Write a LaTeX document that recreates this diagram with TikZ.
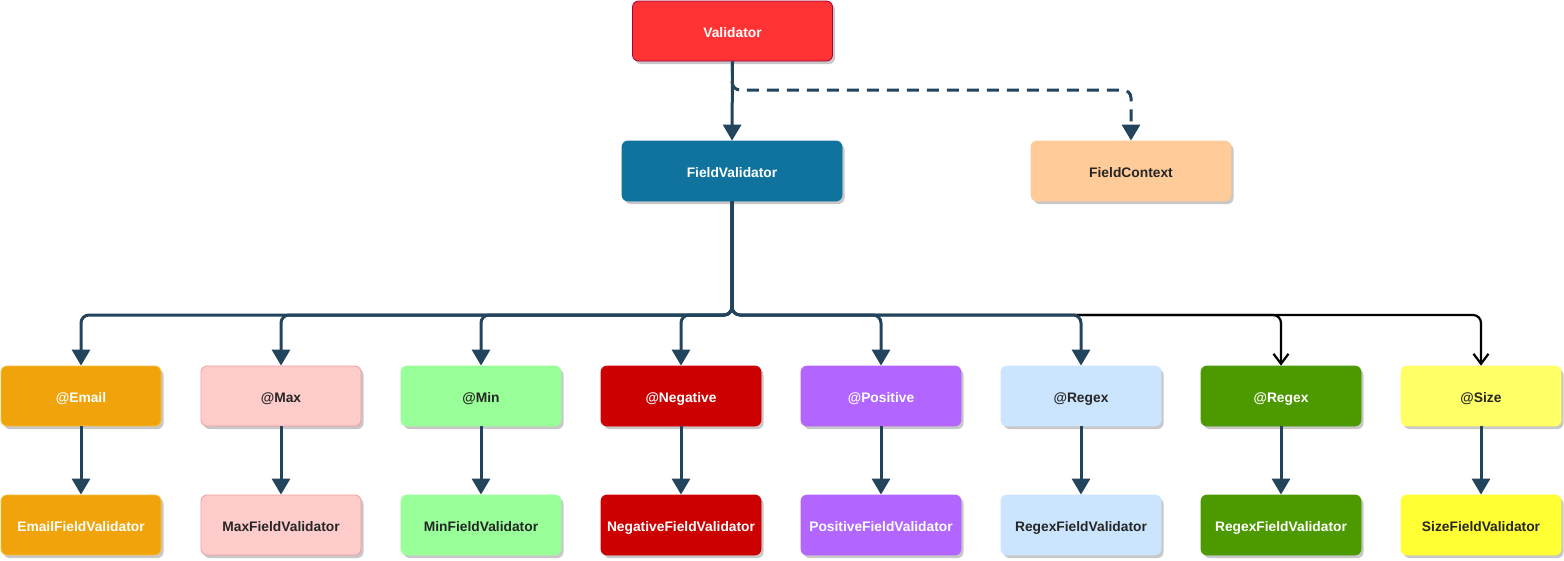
\documentclass[tikz,border=0pt]{standalone}
\usepackage{fontspec}
\setmainfont{Liberation Sans}
\usetikzlibrary{arrows.meta,shadows}

\definecolor{edgeblue}{HTML}{23445D}
\definecolor{shade}{HTML}{C8C8C8}
\definecolor{cval}{HTML}{FF3333}
\definecolor{cvalline}{HTML}{A50040}
\definecolor{cfv}{HTML}{10739E}
\definecolor{cctx}{HTML}{FFCC99}
\definecolor{cemail}{HTML}{F0A30A}
\definecolor{cemailline}{HTML}{F5C242}
\definecolor{cmax}{HTML}{FFCCCC}
\definecolor{cmaxline}{HTML}{F19C99}
\definecolor{cmin}{HTML}{99FF99}
\definecolor{cneg}{HTML}{CC0000}
\definecolor{cpos}{HTML}{B266FF}
\definecolor{cregex}{HTML}{CCE5FF}
\definecolor{cregexb}{HTML}{4D9900}
\definecolor{csizea}{HTML}{FFFF66}
\definecolor{csizeb}{HTML}{FFFF33}

\tikzset{
  box/.style={draw=#1, fill=#1, rounded corners=6pt, minimum width=160pt, minimum height=60pt,
    inner sep=0pt, text height=14pt, text depth=2pt,
    font=\fontsize{13.8}{16}\selectfont\bfseries, line width=0.8pt,
    drop shadow={shadow xshift=2.5pt, shadow yshift=-3pt, fill=shade, opacity=1}},
  wide/.style={minimum width=200pt},
  wider/.style={minimum width=220pt},
  light/.style={text=white},
  dark/.style={text=black!85},
  link/.style={draw=edgeblue, line width=3pt, rounded corners=8pt,
    -{Triangle[length=16pt,width=18pt]}},
  dashlink/.style={link, dash pattern=on 12pt off 8pt},
  blacklink/.style={draw=black, line width=2.2pt, rounded corners=8pt,
    -{Straight Barb[length=10pt,width=15pt,line width=2.2pt]}}
}

\begin{document}
\begin{tikzpicture}[x=1pt,y=-1pt]
  \useasboundingbox (0,0) rectangle (1564,560);

  % top levels
  \node[box=cval, wide, draw=cvalline, light] (val) at (732.5,31) {Validator};
  \node[box=cfv, wider, light] (fv) at (732,171) {FieldValidator};
  \node[box=cctx, wide, dark] (ctx) at (1131,171) {FieldContext};

  % annotation row
  \node[box=cemail, draw=cemailline, light] (aemail) at (81,396) {@Email};
  \node[box=cmax, draw=cmaxline, dark] (amax) at (281,396) {@Max};
  \node[box=cmin, dark] (amin) at (481,396) {@Min};
  \node[box=cneg, light] (aneg) at (681,396) {@Negative};
  \node[box=cpos, light] (apos) at (881,396) {@Positive};
  \node[box=cregex, dark] (aregex) at (1081,396) {@Regex};
  \node[box=cregexb, light] (aregexb) at (1281,396) {@Regex};
  \node[box=csizea, dark] (asize) at (1481,396) {@Size};

  % implementation row
  \node[box=cemail, draw=cemailline, light] (vemail) at (81,525) {EmailFieldValidator};
  \node[box=cmax, draw=cmaxline, dark] (vmax) at (281,525) {MaxFieldValidator};
  \node[box=cmin, dark] (vmin) at (481,525) {MinFieldValidator};
  \node[box=cneg, light] (vneg) at (681,525) {NegativeFieldValidator};
  \node[box=cpos, light] (vpos) at (881,525) {PositiveFieldValidator};
  \node[box=cregex, dark] (vregex) at (1081,525) {RegexFieldValidator};
  \node[box=cregexb, light] (vregexb) at (1281,525) {RegexFieldValidator};
  \node[box=csizeb, dark] (vsize) at (1481,525) {SizeFieldValidator};

  % black branches drawn first so the blue trunk covers their shared part
  \draw[blacklink] (fv.south) -- (732,315) -| (aregexb.north);
  \draw[blacklink] (fv.south) -- (732,315) -| (asize.north);

  % validator links
  \draw[dashlink] (val.south) -- (732,90) -| (ctx.north);
  \draw[link] (val.south) -- (fv.north);

  % trunk to annotations
  \foreach \n in {aemail,amax,amin,aneg,apos,aregex}
    \draw[link] (fv.south) -- (732,315) -| (\n.north);

  % annotation to validator
  \foreach \a/\v in {aemail/vemail,amax/vmax,amin/vmin,aneg/vneg,apos/vpos,aregex/vregex,aregexb/vregexb,asize/vsize}
    \draw[link] (\a.south) -- (\v.north);
\end{tikzpicture}
\end{document}
